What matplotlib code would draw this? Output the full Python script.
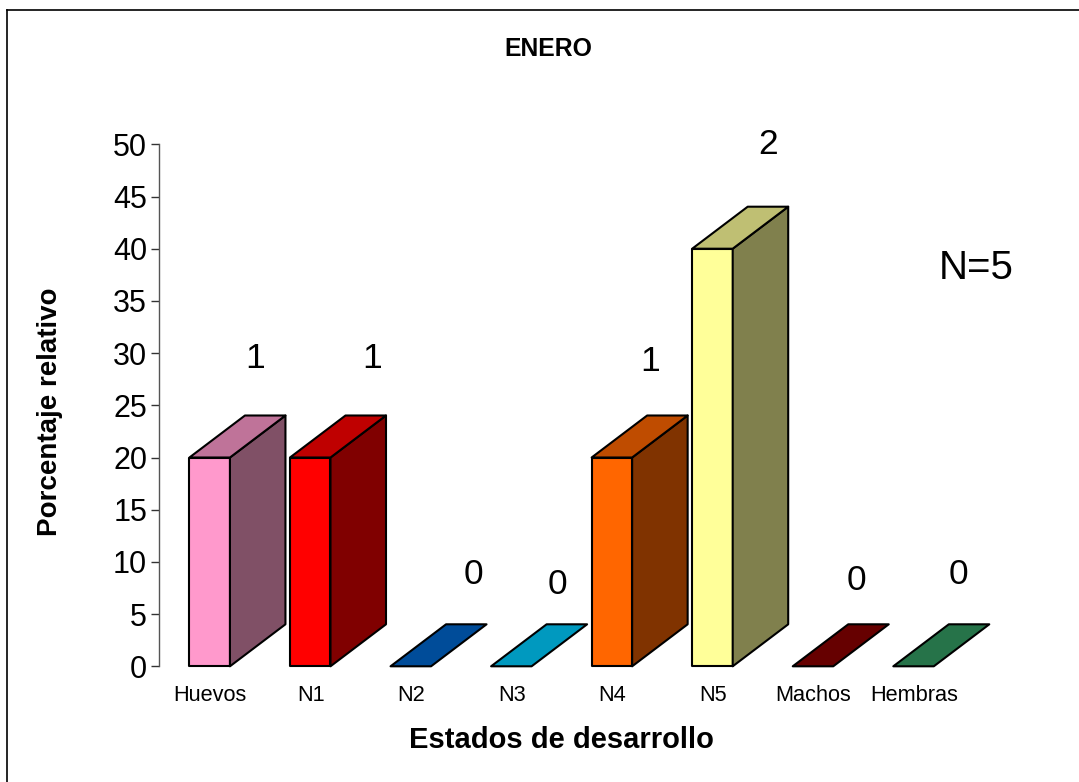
import matplotlib
matplotlib.use("Agg")
import matplotlib.pyplot as plt
from matplotlib.patches import Polygon
from matplotlib.lines import Line2D

plt.rcParams['font.family'] = ['Liberation Sans', 'DejaVu Sans']

categories = ["Huevos", "N1", "N2", "N3", "N4", "N5", "Machos", "Hembras"]
values = [20, 20, 0, 0, 20, 40, 0, 0]
counts = [1, 1, 0, 0, 1, 2, 0, 0]
front_colors = ["#FF99CC", "#FF0000", "#004C99", "#0099BF", "#FF6600", "#FFFF99", "#660000", "#267349"]
top_colors = ["#BF7399", "#BF0000", "#004C99", "#0099BF", "#BF4C00", "#BFBF73", "#660000", "#267349"]
side_colors = ["#805066", "#800000", "#003366", "#006680", "#803300", "#80804D", "#330000", "#134D33"]
count_x = [0.45, 1.62, 2.62, 3.46, 4.38, 5.55, 6.43, 7.45]
count_y = [29.5, 29.5, 8.8, 7.8, 29.2, 50.0, 8.2, 8.8]
yticks = list(range(0, 51, 5))

W, H = 1079, 782
fig = plt.figure(figsize=(W / 100, H / 100), dpi=100, facecolor="white")

ax_l, ax_r, ax_t, ax_b = 159, 1000, 144.3, 666.3
ax = fig.add_axes([ax_l / W, 1 - ax_b / H, (ax_r - ax_l) / W, (ax_b - ax_t) / H])
ax.patch.set_alpha(0)
px_cat = 100.55
ax.set_xlim((ax_l - 209.7) / px_cat, (ax_r - 209.7) / px_cat)
ax.set_ylim(0, 50)

bar_w = 40.5 / px_cat
dx = 55.5 / px_cat
dy = 42 / 10.44

for i, v in enumerate(values):
    x0, x1 = i - bar_w / 2, i + bar_w / 2
    style = dict(edgecolor="black", linewidth=1.5, joinstyle="round", clip_on=False)
    if v > 0:
        ax.add_patch(Polygon([(x0, 0), (x1, 0), (x1, v), (x0, v)], facecolor=front_colors[i], zorder=3, **style))
        ax.add_patch(Polygon([(x1, 0), (x1 + dx, dy), (x1 + dx, v + dy), (x1, v)], facecolor=side_colors[i], zorder=3, **style))
    ax.add_patch(Polygon([(x0, v), (x1, v), (x1 + dx, v + dy), (x0 + dx, v + dy)], facecolor=top_colors[i] if v > 0 else front_colors[i], zorder=3, **style))
    ax.text(count_x[i], count_y[i], str(counts[i]), fontsize=25.5, ha="center", va="center", color="black", clip_on=False)

for s in ("top", "right", "bottom"):
    ax.spines[s].set_visible(False)
ax.spines["left"].set_color("#555555")
ax.spines["left"].set_linewidth(1.0)
ax.set_xticks([])
ax.set_yticks(yticks)
ax.tick_params(axis="y", length=6, width=1.0, color="#333333", labelsize=22, pad=2.5)

for i, c in enumerate(categories):
    ax.annotate(c, xy=(i, 0), xycoords=("data", "axes fraction"), xytext=(0.5 / 100 * 72, -29 / 100 * 72),
                textcoords="offset points", ha="center", va="center", fontsize=15.7)

fig.text(548 / W, 1 - 48.5 / H, "ENERO", fontsize=17.8, fontweight="bold", ha="center", va="center")
fig.text(561 / W, 1 - 740 / H, "Estados de desarrollo", fontsize=21, fontweight="bold", ha="center", va="center")
fig.text(50 / W, 1 - 412 / H, "Porcentaje relativo", fontsize=20, fontweight="bold", rotation=90, ha="center", va="center")
fig.text(976 / W, 1 - 268 / H, "N=5", fontsize=29, ha="center", va="center")

fig.add_artist(Line2D([7 / W, 7 / W], [0, 1 - 10 / H], color="black", linewidth=1.2, transform=fig.transFigure))
fig.add_artist(Line2D([7 / W, 1], [1 - 10 / H, 1 - 10 / H], color="black", linewidth=1.2, transform=fig.transFigure))

fig.savefig("out.png", dpi=100, facecolor="white")
